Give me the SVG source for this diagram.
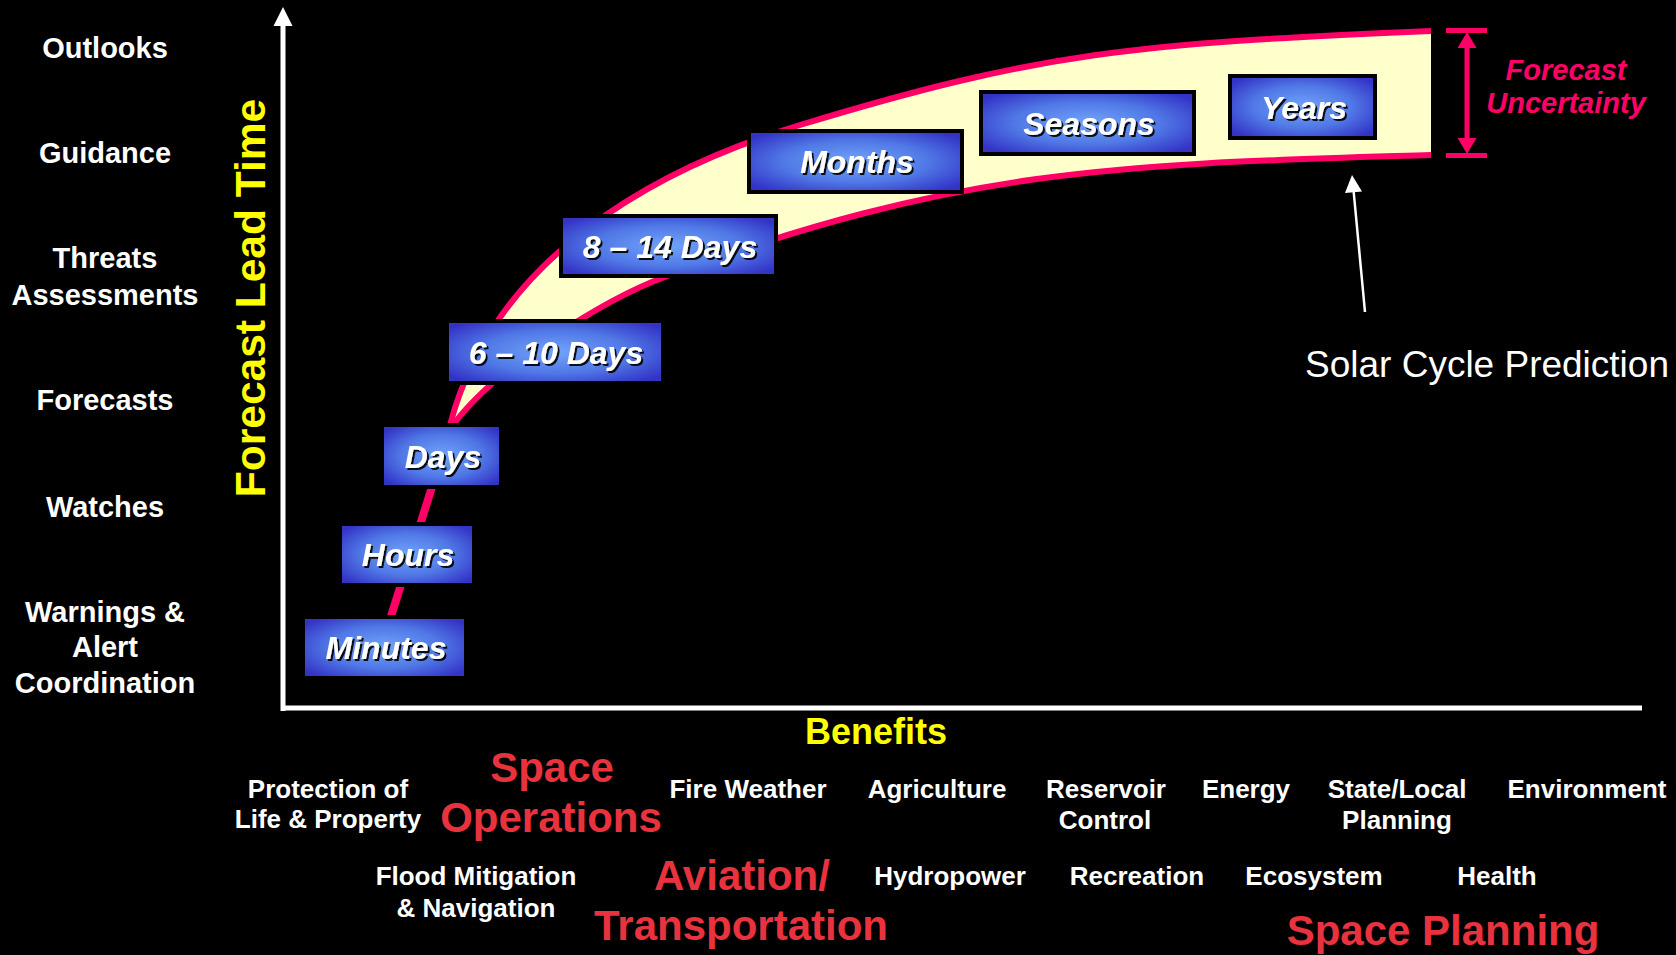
<svg xmlns="http://www.w3.org/2000/svg" width="1676" height="955" viewBox="0 0 1676 955">
<defs>
<radialGradient id="boxg" cx="50%" cy="50%" r="62%">
<stop offset="0%" stop-color="#72A4FA"/>
<stop offset="55%" stop-color="#5078E6"/>
<stop offset="100%" stop-color="#3333C6"/>
</radialGradient>
<filter id="shadow" x="-10%" y="-20%" width="130%" height="150%">
<feDropShadow dx="2" dy="2" stdDeviation="0.6" flood-color="#000" flood-opacity="0.9"/>
</filter>
</defs>
<style>
text{font-family:"Liberation Sans",Arial,Helvetica,sans-serif;font-weight:bold}
.lab{fill:#fff;font-size:29px;text-anchor:middle}
.ben{fill:#fff;font-size:26px;text-anchor:middle}
.red{fill:#E8333F;font-size:42px;text-anchor:middle}
.box rect{fill:url(#boxg);stroke:#000;stroke-width:4}
.box text{fill:#fff;font-size:32px;font-style:italic;text-anchor:middle;filter:url(#shadow)}
.pink{fill:none;stroke:#FF0066;stroke-width:6}
</style>
<rect x="0" y="0" width="1676" height="955" fill="#000"/>

<g id="y-labels">
<text class="lab" x="105" y="58">Outlooks</text>
<text class="lab" x="105" y="163">Guidance</text>
<text class="lab" x="105" y="268">Threats</text>
<text class="lab" x="105" y="305">Assessments</text>
<text class="lab" x="105" y="410">Forecasts</text>
<text class="lab" x="105" y="517">Watches</text>
<text class="lab" x="105" y="622">Warnings &amp;</text>
<text class="lab" x="105" y="657">Alert</text>
<text class="lab" x="105" y="693">Coordination</text>
</g>
<text id="y-title" x="0" y="0" transform="translate(265,298) rotate(-90)" text-anchor="middle" font-size="42.5" fill="#FFFF00">Forecast Lead Time</text>

<g id="band">
<path d="M450,425 C494,257 656,168.5 800,125 C1039,52.5 1131,43.6 1431,31 L1431,155 C1131,164.3 967,165 667,276 C601.3,300.3 494.6,368.7 453,425 Z" fill="#FFFFCC"/>
<path class="pink" d="M450,425 C494,257 656,168.5 800,125 C1039,52.5 1131,43.6 1431,31"/>
<path class="pink" d="M453,425 C494.6,368.7 601.3,300.3 667,276 C967,165 1131,164.3 1431,155"/>
</g>

<g id="connectors">
<line x1="283" y1="711" x2="283" y2="24" stroke="#fff" stroke-width="5"/>
<polygon points="283,7 273.5,26 292.5,26" fill="#fff"/>
<line x1="281" y1="708" x2="1642" y2="708" stroke="#fff" stroke-width="5"/>
<line x1="386" y1="632" x2="452" y2="424" stroke="#FF0066" stroke-width="8"/>
<line x1="1365" y1="312" x2="1353.5" y2="190" stroke="#fff" stroke-width="2.5"/>
<polygon points="1352,175 1345,193 1362,191.5" fill="#fff"/>
<g id="uncertainty-bracket" fill="#FF0066">
<rect x="1446" y="28" width="41" height="5"/>
<rect x="1446" y="153" width="41" height="5"/>
<rect x="1464.5" y="44" width="5" height="96"/>
<polygon points="1467,32 1457.5,48 1476.5,48"/>
<polygon points="1467,154 1457.5,138 1476.5,138"/>
</g>
</g>

<g id="box-minutes" class="box"><rect x="303" y="617" width="163" height="61"/><text x="386" y="659">Minutes</text></g>
<g id="box-hours" class="box"><rect x="340" y="524" width="134" height="61"/><text x="408" y="566">Hours</text></g>
<g id="box-days" class="box"><rect x="382" y="425" width="119" height="62"/><text x="443" y="467.5">Days</text></g>
<g id="box-6-10" class="box"><rect x="447" y="321" width="216" height="62"/><text x="556" y="363.5">6 – 10 Days</text></g>
<g id="box-8-14" class="box"><rect x="561" y="216" width="215" height="60"/><text x="670" y="257.5">8 – 14 Days</text></g>
<g id="box-months" class="box"><rect x="749" y="131" width="213" height="61"/><text x="857" y="173">Months</text></g>
<g id="box-seasons" class="box"><rect x="981" y="92" width="213" height="62"/><text x="1089" y="134.5">Seasons</text></g>
<g id="box-years" class="box"><rect x="1230" y="76" width="145" height="62"/><text x="1304" y="118.5">Years</text></g>

<g id="uncertainty-label" fill="#FF0066" font-size="29" font-style="italic" text-anchor="middle">
<text x="1566" y="80">Forecast</text>
<text x="1566" y="113">Uncertainty</text>
</g>
<text id="solar-label" x="1305" y="377" font-size="37" fill="#fff" style="font-weight:normal">Solar Cycle Prediction</text>

<text id="x-title" x="876" y="744" font-size="36" fill="#FFFF00" text-anchor="middle">Benefits</text>

<g id="benefits">
<text class="ben" x="328" y="798">Protection of</text>
<text class="ben" x="328" y="828">Life &amp; Property</text>
<text class="red" x="552" y="782">Space</text>
<text class="red" x="551" y="832">Operations</text>
<text class="ben" x="748" y="798">Fire Weather</text>
<text class="ben" x="937" y="798">Agriculture</text>
<text class="ben" x="1106" y="798">Reservoir</text>
<text class="ben" x="1105" y="829">Control</text>
<text class="ben" x="1246" y="798">Energy</text>
<text class="ben" x="1397" y="798">State/Local</text>
<text class="ben" x="1397" y="829">Planning</text>
<text class="ben" x="1587" y="798">Environment</text>
<text class="ben" x="476" y="885">Flood Mitigation</text>
<text class="ben" x="476" y="917">&amp; Navigation</text>
<text class="red" x="742" y="890">Aviation/</text>
<text class="red" x="741" y="940">Transportation</text>
<text class="ben" x="950" y="885">Hydropower</text>
<text class="ben" x="1137" y="885">Recreation</text>
<text class="ben" x="1314" y="885">Ecosystem</text>
<text class="ben" x="1497" y="885">Health</text>
<text class="red" x="1443" y="945">Space Planning</text>
</g>
</svg>
